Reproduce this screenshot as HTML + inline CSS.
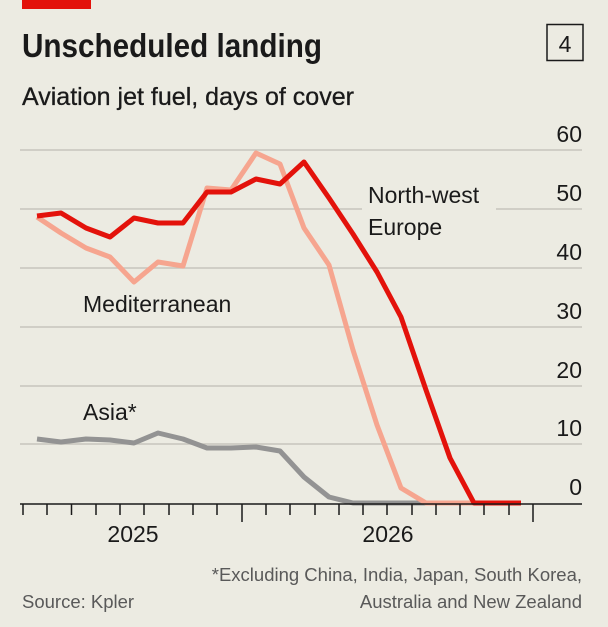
<!DOCTYPE html>
<html><head><meta charset="utf-8"><style>
html,body{margin:0;padding:0;background:#ecebe2;}
svg{display:block;font-family:"Liberation Sans",sans-serif;}
</style></head><body>
<svg width="608" height="627" viewBox="0 0 608 627">
<rect width="608" height="627" fill="#ecebe2"/>
<rect x="22" y="0" width="69" height="9" fill="#e3120b"/>
<text x="22" y="57" font-size="33" font-weight="bold" fill="#1a1a1a" textLength="300" lengthAdjust="spacingAndGlyphs">Unscheduled landing</text>
<rect x="547" y="24.5" width="36" height="36" fill="none" stroke="#1a1a1a" stroke-width="1.5"/>
<text x="565" y="52" font-size="23" text-anchor="middle" fill="#1a1a1a">4</text>
<text x="22" y="105" font-size="25" fill="#1a1a1a" stroke="#1a1a1a" stroke-width="0.3" textLength="332" lengthAdjust="spacingAndGlyphs">Aviation jet fuel, days of cover</text>
<g stroke="#c7c5bc" stroke-width="1.5">
<line x1="20" x2="582" y1="150" y2="150"/>
<line x1="20" x2="582" y1="209" y2="209"/>
<line x1="20" x2="582" y1="268" y2="268"/>
<line x1="20" x2="582" y1="327" y2="327"/>
<line x1="20" x2="582" y1="386" y2="386"/>
<line x1="20" x2="582" y1="444" y2="444"/>
</g>
<rect x="362" y="178" width="134" height="62" fill="#ecebe2"/>
<g font-size="23" fill="#1a1a1a" text-anchor="end">
<text x="582" y="142">60</text>
<text x="582" y="201">50</text>
<text x="582" y="260">40</text>
<text x="582" y="319">30</text>
<text x="582" y="378">20</text>
<text x="582" y="436">10</text>
<text x="582" y="495">0</text>
</g>
<g fill="none" stroke-width="5" stroke-linejoin="round">
<polyline stroke="#939393" points="37,439 61,442 86,439 110,440 134,443 158,433 183,439 207,448 231,448 256,447 280,451 304,477 329,497 353,503 377,503 401,503 426,503"/>
<polyline stroke="#f6a58f" points="37,217 61,233 86,248 110,257 134,282 158,262 183,266 207,188 231,190 256,153 280,164 304,228 329,265 353,350 377,425 401,488 426,503 450,503 474,503"/>
<polyline stroke="#e3120b" points="37,216 61,213 86,228 110,237 134,218 158,223 183,223 207,192 231,192 256,179 280,184 304,162 329,198 353,234 377,272 401,317 426,390 450,458 474,503 498,503 521,503"/>
</g>
<line x1="20" x2="582" y1="504" y2="504" stroke="#1a1a1a" stroke-width="1.5"/>
<g stroke="#1a1a1a" stroke-width="1.5">
<line x1="23" x2="23" y1="504" y2="515"/><line x1="242" x2="242" y1="504" y2="522"/><line x1="533" x2="533" y1="504" y2="522"/>
<line x1="47" x2="47" y1="504" y2="515"/><line x1="71.5" x2="71.5" y1="504" y2="515"/><line x1="96" x2="96" y1="504" y2="515"/><line x1="120" x2="120" y1="504" y2="515"/><line x1="144" x2="144" y1="504" y2="515"/><line x1="169" x2="169" y1="504" y2="515"/><line x1="193" x2="193" y1="504" y2="515"/><line x1="217" x2="217" y1="504" y2="515"/>
<line x1="266" x2="266" y1="504" y2="515"/><line x1="290" x2="290" y1="504" y2="515"/><line x1="315" x2="315" y1="504" y2="515"/><line x1="339" x2="339" y1="504" y2="515"/><line x1="363" x2="363" y1="504" y2="515"/><line x1="387" x2="387" y1="504" y2="515"/><line x1="412" x2="412" y1="504" y2="515"/><line x1="436" x2="436" y1="504" y2="515"/><line x1="460" x2="460" y1="504" y2="515"/><line x1="484" x2="484" y1="504" y2="515"/><line x1="509" x2="509" y1="504" y2="515"/>
</g>
<g font-size="23" fill="#1a1a1a" text-anchor="middle">
<text x="133" y="542">2025</text>
<text x="388" y="542">2026</text>
</g>
<g font-size="23" fill="#1a1a1a">
<text x="368" y="203">North-west</text>
<text x="368" y="235">Europe</text>
<text x="83" y="312">Mediterranean</text>
<text x="83" y="420">Asia*</text>
</g>
<g font-size="18.5" fill="#595959">
<text x="582" y="581" text-anchor="end">*Excluding China, India, Japan, South Korea,</text>
<text x="582" y="608" text-anchor="end">Australia and New Zealand</text>
<text x="22" y="608">Source: Kpler</text>
</g>
</svg>
</body></html>
